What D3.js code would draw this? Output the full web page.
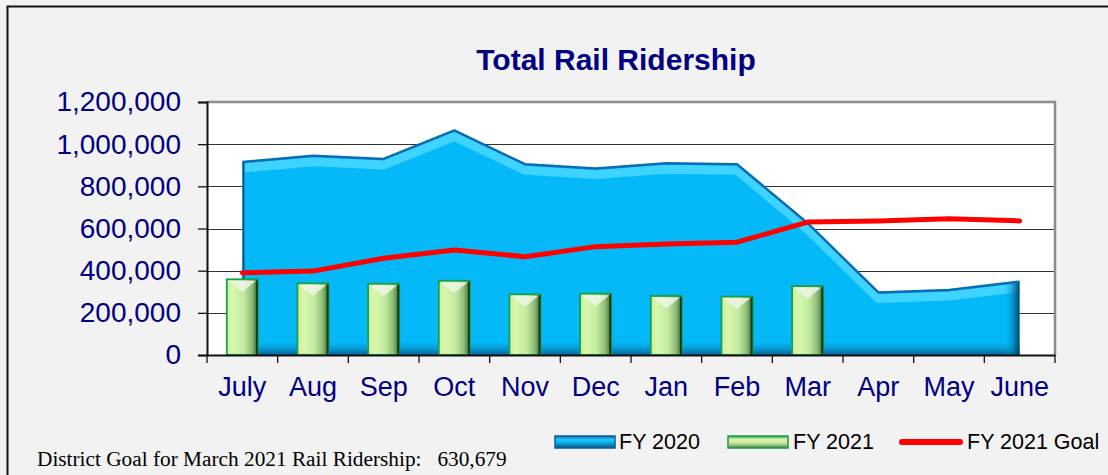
<!DOCTYPE html>
<html>
<head>
<meta charset="utf-8">
<script src="https://cdn.jsdelivr.net/npm/d3@7"></script>
<style>
  body { margin: 0; background: #f2f2f2; }
  svg { display: block; }
</style>
</head>
<body>
<svg id="chart"></svg>
<script>
const months = ["July", "Aug", "Sep", "Oct", "Nov", "Dec", "Jan", "Feb", "Mar", "Apr", "May", "June"];
const fy2020 = [915000, 945000, 930000, 1065000, 905000, 885000, 910000, 905000, 625000, 297000, 308000, 348000];
const fy2021 = [359000, 340000, 338000, 352000, 288000, 291000, 280000, 277000, 327000];
const fy2021Goal = [390000, 398000, 459000, 498000, 466000, 514000, 527000, 535000, 630679, 636000, 646000, 636000];
const yTicks = [0, 200000, 400000, 600000, 800000, 1000000, 1200000];

const width = 1108;
const height = 475;
const plot = { left: 207, right: 1055, top: 102, bottom: 355 };
const navy = "#000080";

const svg = d3.select("#chart")
  .attr("width", width)
  .attr("height", height);

const defs = svg.append("defs");

// outer frame
svg.append("rect")
  .attr("x", 7.5).attr("y", 6.5)
  .attr("width", width + 10).attr("height", height + 10)
  .attr("fill", "#f2f2f2")
  .attr("stroke", "#111").attr("stroke-width", 2);

// title
svg.append("text")
  .attr("x", 616).attr("y", 70)
  .attr("text-anchor", "middle")
  .style("font", "bold 30px Arial, 'Liberation Sans', sans-serif")
  .attr("fill", navy)
  .text("Total Rail Ridership");

// scales
const x = d3.scaleBand()
  .domain(months)
  .range([plot.left, plot.right])
  .padding(0);

const y = d3.scaleLinear()
  .domain([0, 1200000])
  .range([plot.bottom, plot.top]);

const cx = d => x(d) + x.bandwidth() / 2;

// plot background
svg.append("rect")
  .attr("x", plot.left).attr("y", plot.top)
  .attr("width", plot.right - plot.left).attr("height", plot.bottom - plot.top)
  .attr("fill", "#fff");

// gridlines
svg.append("g")
  .selectAll("line")
  .data(yTicks.slice(1, -1))
  .join("line")
    .attr("x1", plot.left).attr("x2", plot.right)
    .attr("y1", d => Math.round(y(d)) + 0.5).attr("y2", d => Math.round(y(d)) + 0.5)
    .attr("stroke", "#333").attr("stroke-width", 1.2);

// plot border (top / right)
svg.append("path")
  .attr("d", `M${plot.left},${plot.top} H${plot.right} V${plot.bottom}`)
  .attr("fill", "none")
  .attr("stroke", "#8c8c8c").attr("stroke-width", 2.5);

// ---- FY 2020 area with bevel look ----
const areaData = months.map((m, i) => ({ m, v: fy2020[i] }));

const area = d3.area()
  .x(d => cx(d.m))
  .y0(plot.bottom)
  .y1(d => y(d.v));

const topLine = d3.line()
  .x(d => cx(d.m))
  .y(d => y(d.v));

defs.append("clipPath").attr("id", "areaClip")
  .append("path").attr("d", area(areaData));

const bottomGrad = defs.append("linearGradient")
  .attr("id", "bottomGrad").attr("x1", 0).attr("x2", 0).attr("y1", 0).attr("y2", 1);
bottomGrad.append("stop").attr("offset", "0%").attr("stop-color", "#05b9f9").attr("stop-opacity", 0);
bottomGrad.append("stop").attr("offset", "100%").attr("stop-color", "#0a4f80").attr("stop-opacity", 0.85);

const rightGrad = defs.append("linearGradient")
  .attr("id", "rightGrad").attr("x1", 0).attr("x2", 1).attr("y1", 0).attr("y2", 0);
rightGrad.append("stop").attr("offset", "0%").attr("stop-color", "#05b9f9").attr("stop-opacity", 0);
rightGrad.append("stop").attr("offset", "100%").attr("stop-color", "#003a5c").attr("stop-opacity", 0.95);

const areaG = svg.append("g");

areaG.append("path")
  .attr("d", area(areaData))
  .attr("fill", "#05b9f9");

const bevel = areaG.append("g").attr("clip-path", "url(#areaClip)");

bevel.append("path")
  .attr("d", topLine(areaData))
  .attr("transform", "translate(0,6)")
  .attr("fill", "none")
  .attr("stroke", "#3fd3ff")
  .attr("stroke-width", 9)
  .attr("stroke-linejoin", "round");

bevel.append("rect")
  .attr("x", plot.left).attr("y", plot.bottom - 16)
  .attr("width", plot.right - plot.left).attr("height", 16)
  .attr("fill", "url(#bottomGrad)");

bevel.append("rect")
  .attr("x", cx("June") - 16).attr("y", plot.top)
  .attr("width", 16).attr("height", plot.bottom - plot.top)
  .attr("fill", "url(#rightGrad)");

bevel.append("line")
  .attr("x1", cx("July") + 1).attr("x2", cx("July") + 1)
  .attr("y1", y(fy2020[0])).attr("y2", plot.bottom)
  .attr("stroke", "#0a5a8e").attr("stroke-width", 2.5);

areaG.append("path")
  .attr("d", topLine(areaData))
  .attr("fill", "none")
  .attr("stroke", "#0a6db4")
  .attr("stroke-width", 2.5)
  .attr("stroke-linejoin", "round");

// ---- FY 2021 bars ----
const barGrad = defs.append("linearGradient")
  .attr("id", "barGrad").attr("x1", 0).attr("x2", 1).attr("y1", 0).attr("y2", 0);
barGrad.append("stop").attr("offset", "0%").attr("stop-color", "#cdeea0");
barGrad.append("stop").attr("offset", "20%").attr("stop-color", "#d9f7ad");
barGrad.append("stop").attr("offset", "55%").attr("stop-color", "#c2ea9f");
barGrad.append("stop").attr("offset", "80%").attr("stop-color", "#8fbf78");
barGrad.append("stop").attr("offset", "100%").attr("stop-color", "#3f6a3a");

const barW = x.bandwidth() * 0.44;
const barData = fy2021.map((v, i) => ({ m: months[i], v }));

const bars = svg.append("g")
  .selectAll("g")
  .data(barData)
  .join("g");

bars.append("rect")
  .attr("x", d => cx(d.m) - barW / 2)
  .attr("y", d => y(d.v))
  .attr("width", barW)
  .attr("height", d => plot.bottom - y(d.v))
  .attr("fill", "url(#barGrad)")
  .attr("stroke", "#17a04c")
  .attr("stroke-width", 1.8);

bars.append("path")
  .attr("d", d => {
    const x0 = cx(d.m) - barW / 2 + 2, x1 = cx(d.m) + barW / 2 - 2, t = y(d.v) + 1.5;
    return `M${x0},${t} L${x1},${t} L${cx(d.m)},${t + 11} Z`;
  })
  .attr("fill", "#eef6e6")
  .attr("opacity", 0.85);

bars.append("line")
  .attr("x1", d => cx(d.m) + barW / 2 - 1).attr("x2", d => cx(d.m) + barW / 2 - 1)
  .attr("y1", d => y(d.v) + 1).attr("y2", plot.bottom)
  .attr("stroke", "#123d1c").attr("stroke-width", 2);

// ---- FY 2021 Goal line ----
const goalLine = d3.line()
  .x((d, i) => cx(months[i]))
  .y(d => y(d));

svg.append("path")
  .attr("d", goalLine(fy2021Goal))
  .attr("fill", "none")
  .attr("stroke", "#ff0000")
  .attr("stroke-width", 5)
  .attr("stroke-linecap", "round")
  .attr("stroke-linejoin", "round");

// ---- axes ----
const yAxis = d3.axisLeft(y)
  .tickValues(yTicks)
  .tickFormat(d3.format(","))
  .tickSize(9)
  .tickPadding(17);

const yG = svg.append("g")
  .attr("transform", `translate(${plot.left},0)`)
  .call(yAxis);
yG.select(".domain").attr("stroke", "#111").attr("stroke-width", 2);
yG.selectAll(".tick line").attr("stroke", "#111").attr("stroke-width", 1.3);
yG.selectAll("text")
  .style("font", "28px Arial, 'Liberation Sans', sans-serif")
  .attr("fill", navy);

const xAxis = d3.axisBottom(x)
  .tickSize(0)
  .tickPadding(22);

const xG = svg.append("g")
  .attr("transform", `translate(0,${plot.bottom})`)
  .call(xAxis);
xG.select(".domain").attr("stroke", "#111").attr("stroke-width", 2);
xG.selectAll("text")
  .style("font", "27px Arial, 'Liberation Sans', sans-serif")
  .attr("fill", navy);

// x tick marks at band boundaries
svg.append("g")
  .selectAll("line")
  .data(months.concat([null]))
  .join("line")
    .attr("x1", (d, i) => plot.left + i * x.bandwidth())
    .attr("x2", (d, i) => plot.left + i * x.bandwidth())
    .attr("y1", plot.bottom).attr("y2", plot.bottom + 8)
    .attr("stroke", "#111").attr("stroke-width", 1.3);

// ---- legend ----
const legendFont = "21.5px Arial, 'Liberation Sans', sans-serif";
const lg = svg.append("g");

const swatch2020 = defs.append("linearGradient")
  .attr("id", "sw2020").attr("x1", 0).attr("x2", 0).attr("y1", 0).attr("y2", 1);
swatch2020.append("stop").attr("offset", "0%").attr("stop-color", "#0a6db4");
swatch2020.append("stop").attr("offset", "30%").attr("stop-color", "#22c6fb");
swatch2020.append("stop").attr("offset", "60%").attr("stop-color", "#0aa7e0");
swatch2020.append("stop").attr("offset", "100%").attr("stop-color", "#0a4d78");

const swatch2021 = defs.append("linearGradient")
  .attr("id", "sw2021").attr("x1", 0).attr("x2", 0).attr("y1", 0).attr("y2", 1);
swatch2021.append("stop").attr("offset", "0%").attr("stop-color", "#2aa84f");
swatch2021.append("stop").attr("offset", "30%").attr("stop-color", "#e3f7b3");
swatch2021.append("stop").attr("offset", "65%").attr("stop-color", "#b8de94");
swatch2021.append("stop").attr("offset", "100%").attr("stop-color", "#4f7a45");

lg.append("rect")
  .attr("x", 555).attr("y", 436).attr("width", 60).attr("height", 12)
  .attr("fill", "url(#sw2020)").attr("stroke", "#0a5f9e").attr("stroke-width", 1.5);
lg.append("text")
  .attr("x", 619).attr("y", 449)
  .style("font", legendFont).attr("fill", "#000")
  .text("FY 2020");

lg.append("rect")
  .attr("x", 728).attr("y", 436).attr("width", 60).attr("height", 12)
  .attr("fill", "url(#sw2021)").attr("stroke", "#1a9a4a").attr("stroke-width", 1.5);
lg.append("text")
  .attr("x", 793).attr("y", 449)
  .style("font", legendFont).attr("fill", "#000")
  .text("FY 2021");

lg.append("line")
  .attr("x1", 902).attr("x2", 960).attr("y1", 442).attr("y2", 442)
  .attr("stroke", "#ff0000").attr("stroke-width", 6).attr("stroke-linecap", "round");
lg.append("text")
  .attr("x", 967).attr("y", 449)
  .style("font", legendFont).attr("fill", "#000")
  .text("FY 2021 Goal");

// footnote
svg.append("text")
  .attr("x", 37).attr("y", 466)
  .style("font", "21.3px 'Liberation Serif', 'Times New Roman', serif")
  .attr("fill", "#000")
  .attr("xml:space", "preserve")
  .style("white-space", "pre")
  .text("District Goal for March 2021 Rail Ridership:   630,679");
</script>
</body>
</html>
